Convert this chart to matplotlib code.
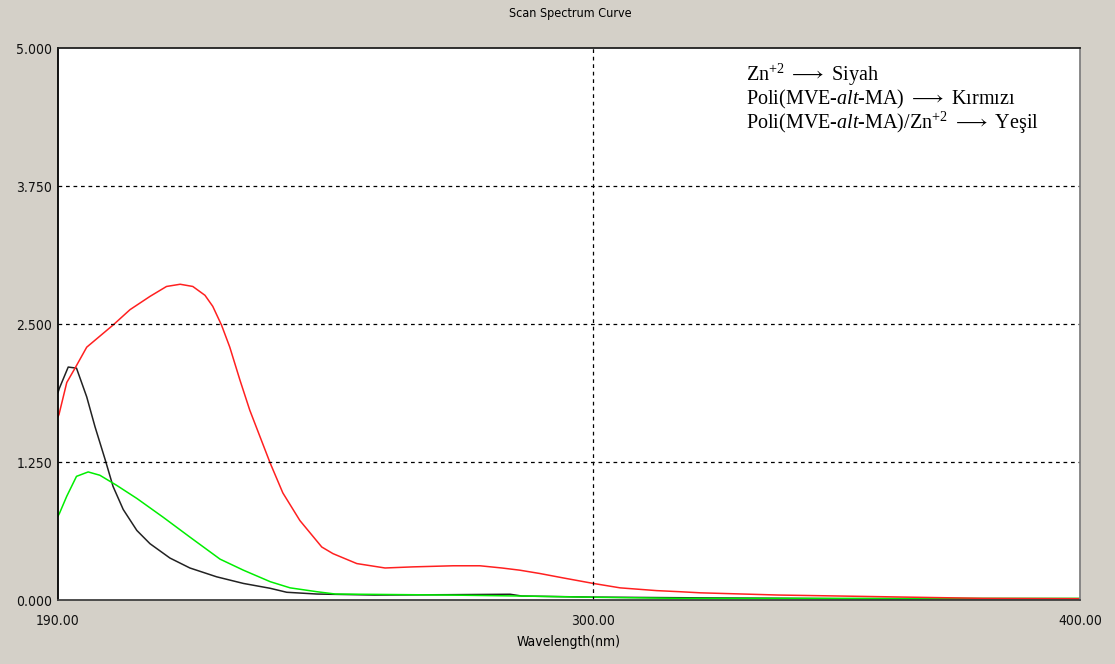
import matplotlib
matplotlib.use("Agg")
import matplotlib.pyplot as plt

# Window / plot colours (old Windows spectrometer software look)
_BG = "#d4d0c8"
_PLOT = "#ffffff"
_UI_FONT = dict(family="DejaVu Sans", stretch="condensed")

plt.rcParams["mathtext.fontset"] = "custom"
plt.rcParams["mathtext.rm"] = "Liberation Serif"
plt.rcParams["mathtext.it"] = "Liberation Serif:italic"
plt.rcParams["mathtext.fallback"] = "stix"

# Zn+2 -> black
zn_x = [190.0, 190.3, 192.1, 193.8, 195.9, 197.6, 199.7, 201.3, 203.4, 206.2, 208.9, 213.0,
        217.1, 222.6, 228.1, 233.6, 237.0, 243.2, 255.0, 270.0, 282.9, 285.3, 300.0, 320.0,
        340.0, 360.0, 380.0, 400.0]
zn_y = [1.88, 1.92, 2.11, 2.10, 1.84, 1.57, 1.27, 1.03, 0.82, 0.63, 0.51, 0.38,
        0.29, 0.21, 0.15, 0.106, 0.07, 0.054, 0.045, 0.048, 0.052, 0.036, 0.026, 0.02,
        0.015, 0.008, 0.004, 0.004]

# Poli(MVE-alt-MA) -> red
poly_x = [190.0, 190.2, 191.8, 193.5, 195.9, 201.3, 204.8, 208.9, 212.3, 215.1, 217.7, 220.2,
          221.8, 223.6, 225.3, 227.4, 229.4, 231.5, 233.6, 236.2, 239.7, 244.2, 246.5, 251.4,
          257.2, 262.9, 271.2, 276.7, 281.2, 284.9, 289.0, 293.8, 300.0, 305.5, 313.0, 317.8,
          322.0, 338.0, 359.0, 380.0, 400.0]
poly_y = [1.66, 1.68, 1.97, 2.10, 2.29, 2.49, 2.63, 2.75, 2.84, 2.86, 2.84, 2.76,
          2.66, 2.49, 2.29, 1.99, 1.72, 1.48, 1.24, 0.97, 0.72, 0.48, 0.42, 0.33,
          0.29, 0.30, 0.31, 0.31, 0.29, 0.27, 0.24, 0.20, 0.15, 0.11, 0.085, 0.075,
          0.065, 0.045, 0.03, 0.015, 0.012]

# Poli(MVE-alt-MA)/Zn+2 -> green
comp_x = [190.0, 190.3, 191.8, 193.8, 196.2, 198.6, 202.0, 206.2, 211.6, 217.1, 223.3, 228.1,
          233.6, 237.7, 243.2, 247.0, 270.0, 285.0, 300.0, 317.8, 350.0, 400.0]
comp_y = [0.76, 0.785, 0.94, 1.12, 1.16, 1.13, 1.04, 0.92, 0.75, 0.57, 0.37, 0.27,
          0.166, 0.11, 0.075, 0.054, 0.045, 0.036, 0.025, 0.015, 0.015, 0.015]

x_ticks = [190, 300, 400]
y_ticks = [0.0, 1.25, 2.5, 3.75, 5.0]

legend_lines = [
    "Zn$^{+2}$ $\\longrightarrow$ Siyah",
    "Poli(MVE-$\\mathit{alt}$-MA) $\\longrightarrow$ Kırmızı",
    "Poli(MVE-$\\mathit{alt}$-MA)/Zn$^{+2}$ $\\longrightarrow$ Yeşil",
]

fig = plt.figure(figsize=(11.15, 6.64), dpi=100)
fig.patch.set_facecolor(_BG)
ax = fig.add_axes([58 / 1115, 1 - 600 / 664, 1022 / 1115, 552 / 664])
ax.set_facecolor(_PLOT)

ax.plot(zn_x, zn_y, color="#222222", lw=1.1)
ax.plot(comp_x, comp_y, color="#00ee00", lw=1.1)
ax.plot(poly_x, poly_y, color="#ff2020", lw=1.1)

# dashed grid like the instrument software
for yv in y_ticks[1:-1]:
    ax.axhline(yv, color="black", lw=0.9, ls=(0, (3, 3)))
ax.axvline(300, color="black", lw=0.9, ls=(0, (3, 3)))

ax.set_xlim(190, 400)
ax.set_ylim(0, 5)
ax.set_xticks(x_ticks)
ax.set_xticklabels([f"{v:.2f}" for v in x_ticks])
ax.set_yticks(y_ticks)
ax.set_yticklabels([f"{v:.3f}" for v in y_ticks])
ax.tick_params(length=0, labelsize=10, labelcolor="#111111")
ax.tick_params(axis="x", pad=10)
ax.tick_params(axis="y", pad=4)
for lbl in ax.get_xticklabels() + ax.get_yticklabels():
    lbl.set_fontstretch("condensed")
ax.set_xlabel("Wavelength(nm)", fontsize=10, labelpad=5, **_UI_FONT)

ax.spines["left"].set_color("#000000")
ax.spines["top"].set_color("#202020")
ax.spines["right"].set_color("#808080")
ax.spines["bottom"].set_color("#404040")
for s in ax.spines.values():
    s.set_linewidth(1.3)

fig.text(570 / 1115, 1 - 13 / 664, "Scan Spectrum Curve", ha="center", va="center",
         fontsize=9, **_UI_FONT)

for i, line in enumerate(legend_lines):
    fig.text(746 / 1115, 1 - (75 + i * 24) / 664, line, ha="left", va="center",
             fontsize=14.5, family="Liberation Serif")

fig.savefig("out.png", dpi=100, facecolor=_BG)
